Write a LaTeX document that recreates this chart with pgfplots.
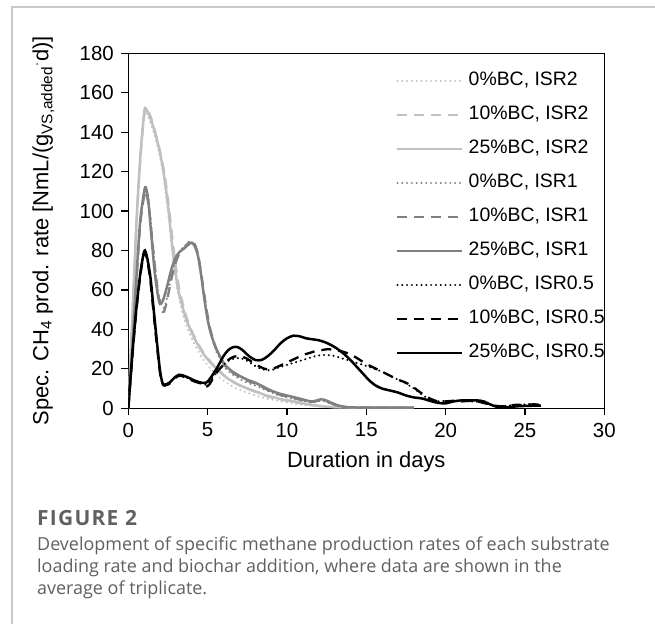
\documentclass[border=0pt]{standalone}
\usepackage{fontspec}
\setmainfont{Liberation Sans}
\newfontfamily\capfont{Open Sans}
\newfontfamily\figfont[LetterSpace=6]{Open Sans}
\usepackage{pgfplots}
\pgfplotsset{compat=1.18}
\definecolor{lg}{HTML}{C0C0C0}
\definecolor{mg}{HTML}{808080}
\definecolor{capgray}{HTML}{606060}
\definecolor{framegray}{HTML}{C8C8C8}
\pgfplotsset{
  dotst/.style={line cap=round, dash pattern=on 0.01bp off 4.8bp, line width=2.3bp},
  dashst/.style={dash pattern=on 10bp off 7bp, line width=2.3bp},
  solst/.style={line width=2.5bp},
}
\begin{document}
\begin{tikzpicture}[x=1bp,y=1bp]
\useasboundingbox (0,0) rectangle (655,624);
\draw[framegray, line width=1.3bp] (12,0) -- (12,617) -- (655,617);
\begin{axis}[
  at={(128.3bp,215.7bp)}, anchor=south west,
  scale only axis, width=476bp, height=355bp,
  xmin=0, xmax=30, ymin=0, ymax=180,
  xtick={0,5,...,30}, ytick={0,20,...,180},
  tick pos=left, tick align=outside, major tick length=7bp,
  axis line style={line width=1.2bp},
  every tick/.style={black, line width=1.2bp},
  /pgf/number format/assume math mode=true,
  ticklabel style={font=\fontsize{20.5}{21}\selectfont},
  yticklabel style={xshift=-4bp},
  xticklabel style={yshift=-4bp},
  label style={font=\fontsize{22}{23}\selectfont},
  xlabel={Duration in days},
  ylabel={Spec. CH\textsubscript{4} prod. rate [NmL/(g\textsubscript{VS,added}\textsuperscript{$\cdot$}d)]},
  xlabel style={at={(axis description cs:0.5,0)}, anchor=center, yshift=-54bp},
  ylabel style={at={(axis description cs:0,0.5)}, anchor=center, yshift=85bp},
  legend cell align=left,
  legend image code/.code={\draw[#1] (0bp,0bp) -- (65bp,0bp);},
  legend style={at={(0.5624,0.947)}, anchor=north west, draw=none, fill=none,
    inner sep=0pt, row sep=17bp, column sep=5bp,
    font=\fontsize{19.5}{20}\selectfont,
    nodes={inner sep=0pt, text height=13bp, text depth=4bp}},
  smooth, tension=0.45,
]
% ISR2
\addplot[lg, dotst] table {
0 0
0.25 44
0.5 90
0.75 124
1.0 147
1.1 150
1.3 147
1.6 140
1.9 131
2.2 119
2.5 100
2.8 78
3.1 60
3.4 49
3.7 41
4.2 32
4.7 25
5.2 20
5.7 16
6.2 13
6.7 10.5
7.2 8.8
7.7 7.3
8.2 6
8.7 5
9.2 4.2
9.7 3.4
10.2 2.7
10.7 2
11.2 1.5
12 1
13 0.6
14 0.4
16 0.3
18 0.3
};
\addlegendentry{0\%BC, ISR2}
\addplot[lg, dashst] table {
0 0
0.25 43
0.5 90
0.75 125
1.0 149
1.15 152
1.4 148
1.7 140
2.0 130
2.3 118
2.6 99
2.9 78
3.2 61
3.5 51
3.8 43
4.3 34
4.8 27.5
5.3 22.5
5.8 18.5
6.3 15
6.8 12.5
7.3 10.5
7.8 9
8.3 7.5
8.8 6
9.3 5
9.8 4.2
10.3 3.4
10.8 2.7
11.3 2
11.8 1.4
12.3 1
13 0.6
14 0.4
16 0.3
18 0.3
};
\addlegendentry{10\%BC, ISR2}
\addplot[lg, solst] table {
0 0
0.25 45
0.5 92
0.75 127
1.0 150
1.1 152
1.3 149
1.6 142
1.9 133
2.2 121
2.5 103
2.8 80
3.1 62
3.4 52
3.7 44
4.2 35
4.7 28
5.2 23
5.7 19
6.2 15.5
6.7 13
7.2 11
7.7 9.5
8.2 8
8.7 6.5
9.2 5.5
9.7 4.5
10.2 3.8
10.7 3
11.2 2.2
11.7 1.5
12.2 1
13 0.6
14 0.4
15 0.3
16 0.3
17 0.3
18 0.3
};
\addlegendentry{25\%BC, ISR2}
% ISR1
\addplot[mg, dotst] table {
0 0
0.25 30
0.5 64
0.75 94
1.0 109
1.1 111
1.3 104
1.5 87
1.7 71
1.9 58
2.1 52
2.25 51
2.45 56
2.7 66
2.95 74
3.2 79
3.5 82
3.8 84
4.0 84
4.2 82
4.4 77
4.6 67
4.8 56
5.0 46
5.2 38
5.5 30
5.8 24.5
6.1 20.5
6.5 17.5
7 15
7.5 13
8 11.5
8.5 9.8
9 8
9.5 6.5
10 5.5
10.5 4.6
11 3.8
11.5 3
11.8 3.2
12.1 3.8
12.4 3.5
12.8 2.3
13.2 1.2
13.6 0.6
14 0.4
16 0.3
18 0.3
};
\addlegendentry{0\%BC, ISR1}
\addplot[mg, dashst] table {
0 0
0.25 29
0.5 63
0.75 93
1.0 108
1.1 110
1.3 102
1.5 86
1.7 70
1.9 57
2.1 50
2.25 49
2.45 55
2.7 65
2.95 73
3.2 78
3.5 81
3.8 84
4.0 85.5
4.2 83
4.4 78
4.6 68
4.8 57
5.0 47
5.2 39
5.5 31
5.8 25.5
6.1 21.5
6.5 18.5
7 16
7.5 14
8 12.5
8.5 10.5
9 8.5
9.5 7
10 6
10.5 5
11 4
11.5 3.2
11.8 3.5
12.1 4
12.4 3.7
12.8 2.5
13.2 1.3
13.6 0.7
14 0.5
16 0.3
18 0.3
};
\addlegendentry{10\%BC, ISR1}
\addplot[mg, solst] table {
0 0
0.25 30
0.5 65
0.75 95
1.0 110
1.1 112
1.25 106
1.45 88
1.65 70
1.85 58
2.0 53
2.2 55
2.45 62
2.7 70
2.95 76
3.2 79
3.5 81
3.8 83
4.0 84
4.2 82
4.4 77
4.6 67
4.8 55
5.0 45
5.2 38
5.5 31
5.8 26
6.1 22
6.5 19
7 16.5
7.5 14.5
8 13
8.5 11
9 9
9.5 7.5
10 6.5
10.5 5.5
11 4.5
11.5 3.5
11.8 3.8
12.1 4.5
12.4 4.2
12.8 2.8
13.2 1.5
13.6 0.8
14 0.5
15 0.3
16 0.3
17 0.3
18 0.3
};
\addlegendentry{25\%BC, ISR1}
% ISR0.5
\addplot[black, dotst] table {
0 0
0.25 26
0.5 49
0.75 67
0.95 77
1.05 79.5
1.2 75.5
1.4 65
1.6 49
1.8 33
2.0 18.5
2.15 12.5
2.3 11.5
2.6 12.5
2.9 15.5
3.2 17
3.5 16.5
3.8 15
4.2 13.5
4.6 12.5
4.9 12
5.1 13.5
5.4 16.5
5.7 19.5
6.0 22
6.3 24
6.6 25
7.0 25.5
7.4 24.5
7.8 22.5
8.2 20.5
8.6 19.5
9.0 19.3
9.4 20.5
9.8 21.5
10.2 22.5
10.6 23.5
11.0 24.5
11.4 25.5
11.8 26.5
12.2 27
12.6 27
13.0 26.5
13.4 25.5
13.8 24.5
14.2 23.5
14.6 22.5
15.0 21.5
15.5 20
16.0 18.5
16.5 16.5
17.0 14.5
17.5 12.5
18.0 10
18.5 7
19.0 4.5
19.5 3.5
20 3.8
20.5 3.5
21 3.8
21.5 3.5
22 3.3
22.5 2.5
23 1.5
23.5 1
24 1.5
24.5 1.5
25 2
25.5 2.2
26 1.5
};
\addlegendentry{0\%BC, ISR0.5}
\addplot[black, dashst] table {
0 0
0.25 26
0.5 49
0.75 67
0.95 77
1.05 79
1.2 75
1.4 64
1.6 48
1.8 32
2.0 18
2.15 12.5
2.3 11.5
2.6 12.5
2.9 15
3.2 16.5
3.5 16
3.8 15
4.2 13.5
4.6 12.5
4.9 11
5.1 12
5.4 16
5.7 19.5
6.0 22
6.3 24.5
6.6 26
7.0 26.5
7.4 25.5
7.8 23.5
8.2 21.5
8.6 20
9.0 19.8
9.4 21
9.8 22.5
10.2 24
10.6 25.5
11.0 27
11.4 28
11.8 29
12.2 29.5
12.6 30
13.0 29.5
13.4 29
13.8 28
14.2 26.5
14.6 24.5
15.0 22.5
15.5 20.5
16.0 18.5
16.5 16.5
17.0 14.5
17.5 13
18.0 10.5
18.5 7.5
19.0 5
19.5 3.5
20 3.5
20.5 3.8
21 3.5
21.5 3.8
22 3.5
22.5 2.5
23 1.5
23.5 1
24 1.3
24.5 1.8
25 1.5
25.5 2
26 1.8
};
\addlegendentry{10\%BC, ISR0.5}
\addplot[black, solst] table {
0 0
0.25 27
0.5 50
0.75 68
0.95 78
1.05 80
1.2 76
1.4 66
1.6 50
1.8 34
2.0 19
2.15 13
2.3 12
2.6 13
2.9 15.5
3.2 17
3.5 16.5
3.8 15.5
4.2 14
4.6 13
4.9 13
5.1 14.5
5.4 18
5.7 22
6.0 26.5
6.3 29.5
6.6 31
6.9 31
7.2 29.5
7.6 26.5
8.0 24.5
8.4 24.5
8.8 26.5
9.2 29.5
9.6 33
10.0 35.5
10.4 36.8
10.8 36.5
11.2 35.5
11.6 35
12.0 34.5
12.4 33.5
12.8 32
13.2 30
13.6 27.5
14.0 24.5
14.4 21
14.8 17.5
15.2 14
15.6 11.5
16.0 10
16.5 9
17 8
17.5 6.5
18 5.5
18.5 5
19 3.8
19.5 2.8
20 2.5
20.5 3.5
21 4
21.5 4
22 4
22.4 3.5
22.8 2
23.2 0.8
23.6 0.5
24 0.6
24.5 1
25 1.2
25.5 1.3
26 1.3
};
\addlegendentry{25\%BC, ISR0.5}
\end{axis}
\node[anchor=base west, inner sep=0pt, text=capgray, font=\figfont\fontsize{21}{22}\selectfont\bfseries] at (37,98.4) {FIGURE 2};
\node[anchor=base west, inner sep=0pt, text=capgray, font=\capfont\fontsize{18}{20}\selectfont] at (37,73.4) {Development of specific methane production rates of each substrate};
\node[anchor=base west, inner sep=0pt, text=capgray, font=\capfont\fontsize{18}{20}\selectfont] at (37,51.4) {loading rate and biochar addition, where data are shown in the};
\node[anchor=base west, inner sep=0pt, text=capgray, font=\capfont\fontsize{18}{20}\selectfont] at (37,29.4) {average of triplicate.};
\end{tikzpicture}
\end{document}
